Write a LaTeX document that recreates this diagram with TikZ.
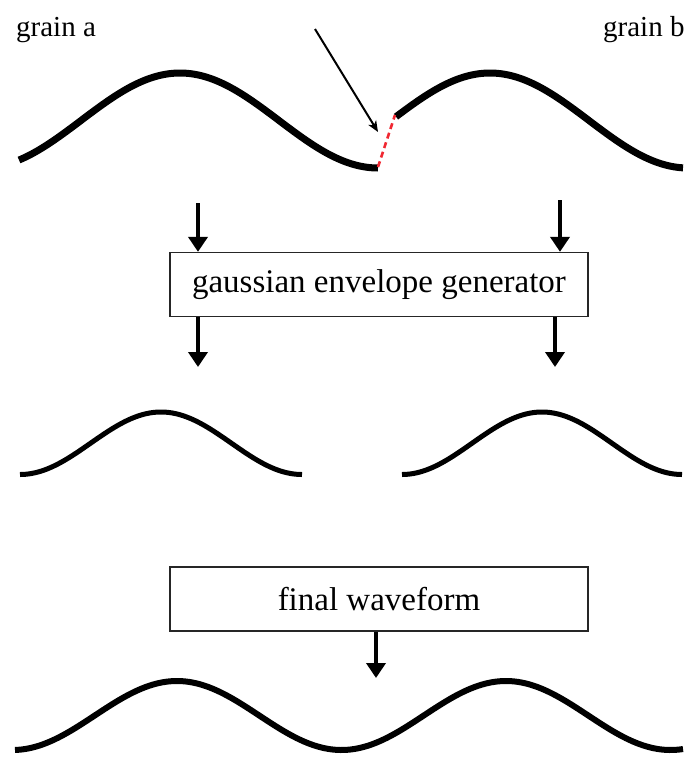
\documentclass[tikz,border=0pt]{standalone}
\usepackage{fontspec}
\setmainfont{Liberation Serif}
\usetikzlibrary{arrows.meta}
\definecolor{splice}{RGB}{240,40,50}
\tikzset{
  wave/.style={line width=#1, line join=round},
  wave/.default=6pt,
  flow/.style={line width=3.8pt, -{Triangle[length=15pt,width=19pt]}},
  pointer/.style={line width=2pt, -{Stealth[length=11pt,width=9pt,inset=3pt]}},
  stage/.style={draw=black!85, line width=1.3pt, minimum width=418pt, minimum height=64pt,
    inner sep=0pt, font=\fontsize{33}{38}\selectfont},
  tag/.style={inner sep=0pt, font=\fontsize{29}{34}\selectfont},
}
\begin{document}
\begin{tikzpicture}[x=1pt, y=-1pt]
\useasboundingbox (0,0) rectangle (687,761);

% labels of the two grains
\node[tag, anchor=base west] (ga) at (16,36) {grain a};
\node[tag, anchor=base west] (gb) at (603,36) {grain b};

% the two grains, joined with a phase jump
\draw[wave=7pt] plot[domain=19:378, samples=120] (\x, {120.5 - 47.5*cos((\x-180)/396*360)});
\draw[wave=7pt] plot[domain=396:683, samples=120] (\x, {120.5 - 47.5*cos((\x-490)/396*360)});
\coordinate (jlow) at (378,167);
\coordinate (jhigh) at (395,115);
\draw[splice, line width=2.6pt, dash pattern=on 6pt off 4pt] (jlow) -- (jhigh);
\coordinate (ptail) at (315,29);
\coordinate (ptip) at (378,132);
\draw[pointer] (ptail) -- (ptip);

% envelope stage
\node[stage] (env) at (379,284.5) {gaussian envelope generator};
\coordinate (ina) at (198,203);
\coordinate (inb) at (560,200);
\draw[flow] (ina) -- (ina |- env.north);
\draw[flow] (inb) -- (inb |- env.north);
\coordinate (outa) at (198,367);
\coordinate (outb) at (555,367);
\draw[flow] (outa |- env.south) -- (outa);
\draw[flow] (outb |- env.south) -- (outb);

% windowed grains
\draw[wave=5pt] plot[domain=20:302, samples=120] (\x, {474.5 - 62.5*(1+cos((\x-161)/282*360))/2});
\draw[wave=5pt] plot[domain=402:682, samples=120] (\x, {474.5 - 62.5*(1+cos((\x-542)/280*360))/2});

% summed output
\node[stage] (fin) at (379,599) {final waveform};
\coordinate (outf) at (376,678);
\draw[flow] (outf |- fin.south) -- (outf);
\draw[wave=6pt] plot[domain=15:683, samples=200] (\x, {715.5 - 34.5*cos((\x-177)/329*360)});
\end{tikzpicture}
\end{document}
